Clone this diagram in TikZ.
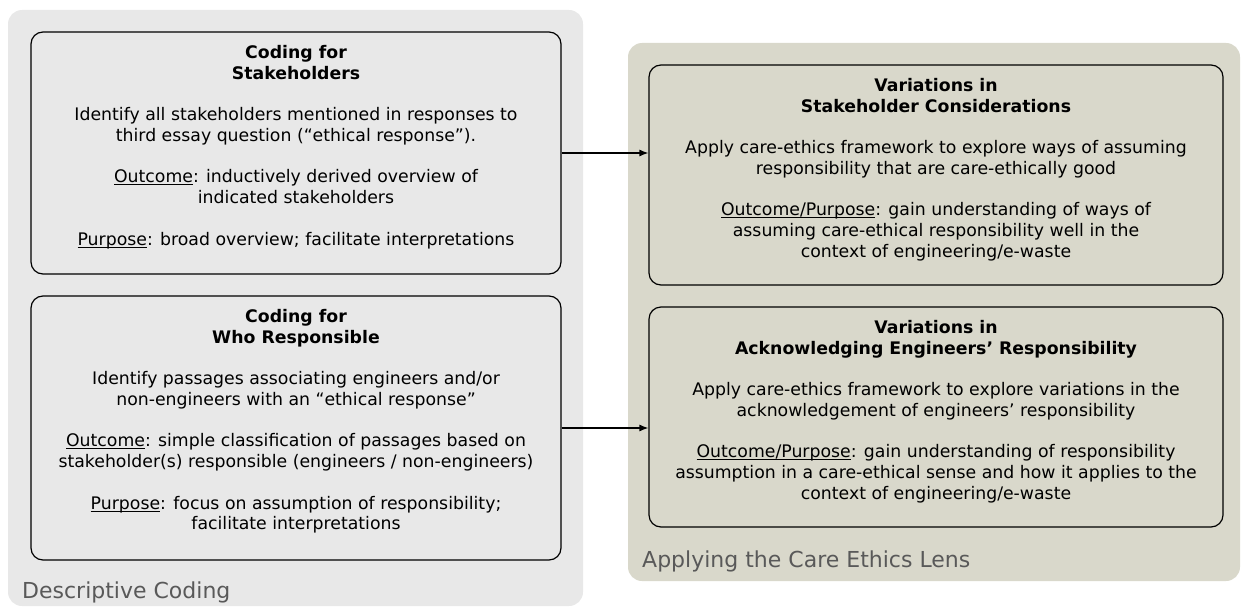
\documentclass[tikz,border=0pt]{standalone}
\usepackage{fontspec}
\setmainfont{DejaVu Sans}
\usepackage{xcolor}
\usetikzlibrary{positioning, arrows.meta}
\definecolor{descgray}{HTML}{E8E8E8}
\definecolor{lensbeige}{HTML}{D9D8CB}
\definecolor{labelgray}{HTML}{595959}
\newcommand{\uword}[1]{\setbox0\hbox{#1}\rlap{\rule[-2.4pt]{\wd0}{0.9pt}}\box0}

\begin{document}
\begin{tikzpicture}[x=1pt, y=-1pt, >={Latex[length=9pt,width=7pt]},
  panel/.style={rounded corners=14pt},
  codebox/.style={draw, line width=1.2pt, rounded corners=12pt, inner sep=0pt, minimum width=#1},
  boxtext/.style={anchor=north, align=center, inner sep=0pt, font=\fontsize{17.3}{20.7}\selectfont},
  paneltitle/.style={anchor=west, text=labelgray, inner sep=0pt, font=\fontsize{22}{26}\selectfont}]
\useasboundingbox (0,0) rectangle (1246,607);
% panels
\fill[descgray, panel] (8,10) rectangle (583,606);
\fill[lensbeige, panel] (628,43) rectangle (1240,581);
\node[paneltitle] at (22,592) (desclabel) {Descriptive Coding};
\node[paneltitle] at (642,561) (lenslabel) {Applying the Care Ethics Lens};
% descriptive coding boxes
\node[codebox=530pt, minimum height=242pt] at (296,153) (stake) {};
\node[codebox=530pt, minimum height=264pt] at (296,428) (who) {};
\node[boxtext] at ([yshift=-14pt]stake.north) (staketext) {\textbf{Coding for}\\\textbf{Stakeholders}\\[20.7pt]
Identify all stakeholders mentioned in responses to\\third essay question (“ethical response”).\\[20.7pt]
\uword{Outcome}: inductively derived overview of\\indicated stakeholders\\[20.7pt]
\uword{Purpose}: broad overview; facilitate interpretations};
\node[boxtext] at ([yshift=-14pt]who.north) (whotext) {\textbf{Coding for}\\\textbf{Who Responsible}\\[20.7pt]
Identify passages associating engineers and/or\\non-engineers with an “ethical response”\\[20.7pt]
\uword{Outcome}: simple classification of passages based on\\stakeholder(s) responsible (engineers / non-engineers)\\[20.7pt]
\uword{Purpose}: focus on assumption of responsibility;\\facilitate interpretations};
% care ethics boxes
\node[codebox=574pt, minimum height=220pt] at (936,175) (consid) {};
\node[codebox=574pt, minimum height=220pt] at (936,417) (ack) {};
\node[boxtext] at ([yshift=-14pt]consid.north) (considtext) {\textbf{Variations in}\\\textbf{Stakeholder Considerations}\\[20.7pt]
Apply care-ethics framework to explore ways of assuming\\responsibility that are care-ethically good\\[20.7pt]
\uword{Outcome/Purpose}: gain understanding of ways of\\assuming care-ethical responsibility well in the\\context of engineering/e-waste};
\node[boxtext] at ([yshift=-14pt]ack.north) (acktext) {\textbf{Variations in}\\\textbf{Acknowledging Engineers’ Responsibility}\\[20.7pt]
Apply care-ethics framework to explore variations in the\\acknowledgement of engineers’ responsibility\\[20.7pt]
\uword{Outcome/Purpose}: gain understanding of responsibility\\assumption in a care-ethical sense and how it applies to the\\context of engineering/e-waste};
% arrows
\draw[->, line width=1.2pt] (stake.east) -- (stake.east -| consid.west);
\draw[->, line width=1.2pt] (who.east) -- (who.east -| ack.west);
\end{tikzpicture}
\end{document}
